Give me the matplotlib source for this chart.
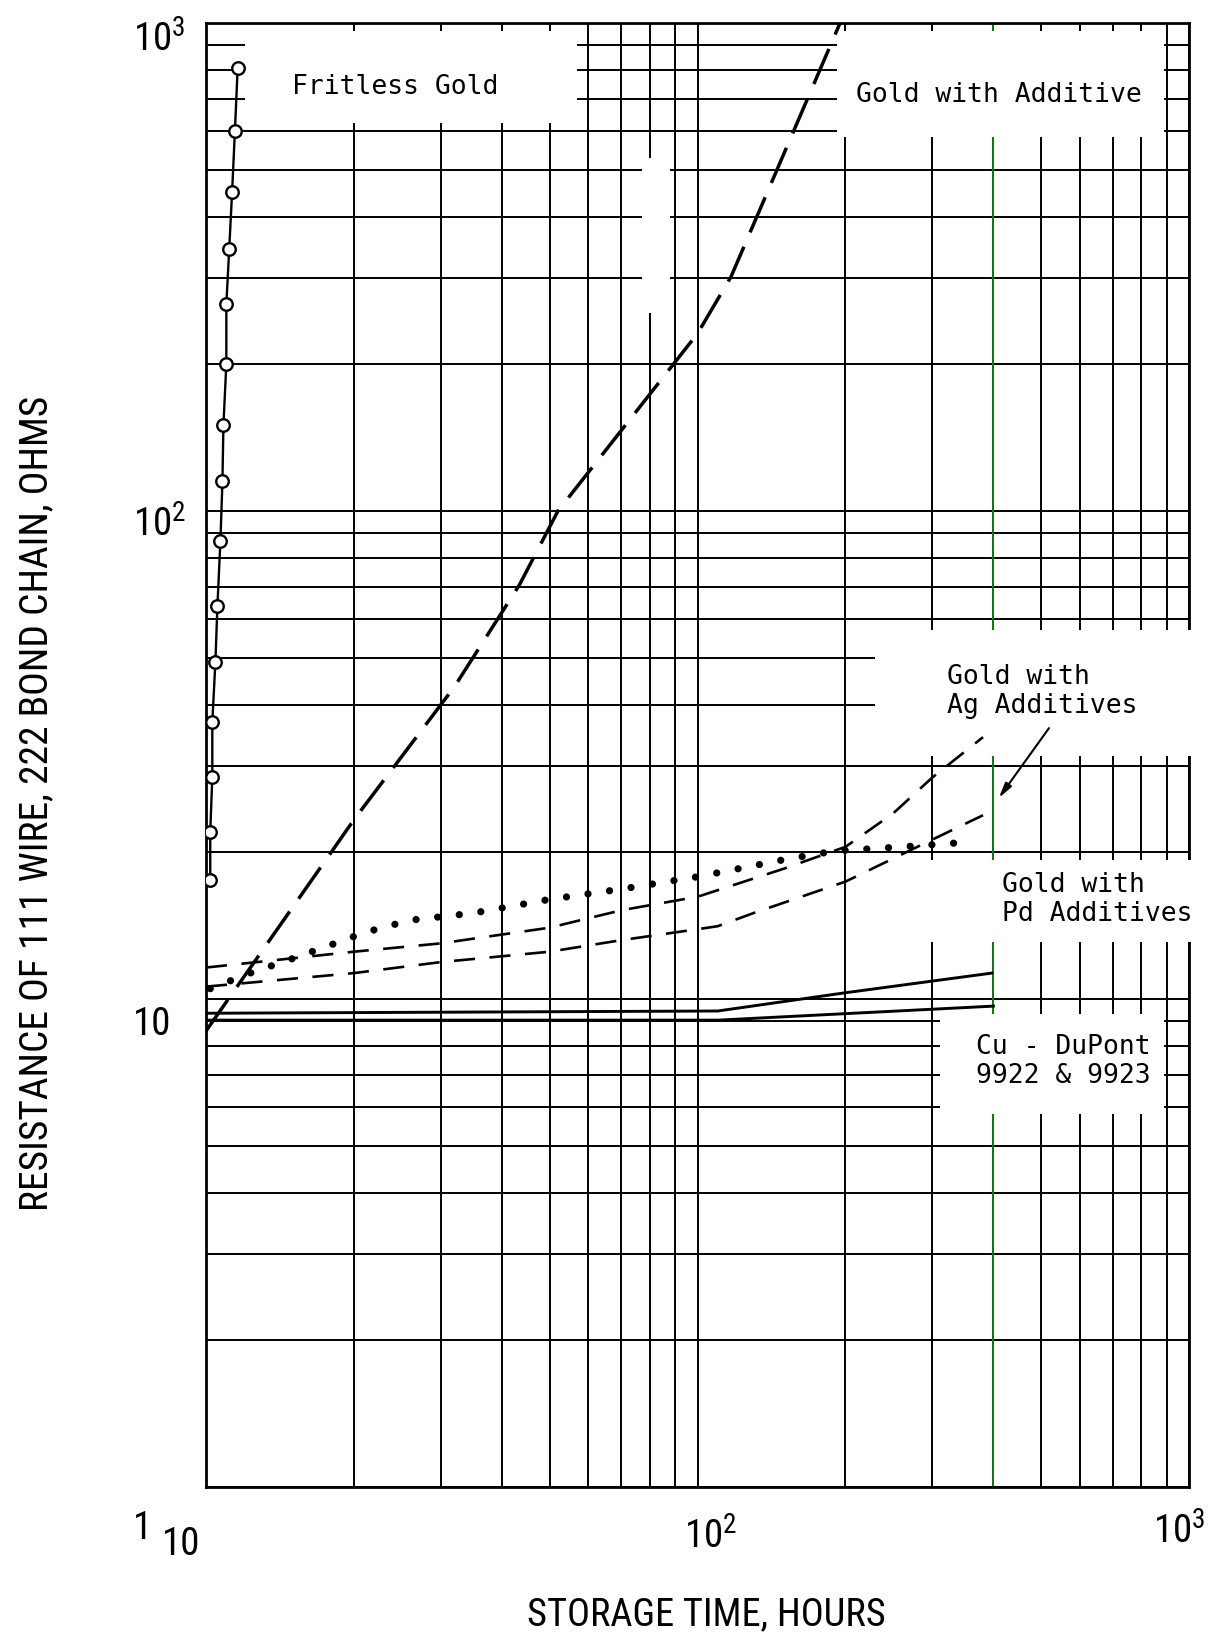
import matplotlib
matplotlib.use("Agg")
import matplotlib.pyplot as plt
from matplotlib import font_manager
from matplotlib.patches import Rectangle
from matplotlib.ticker import LogLocator, NullFormatter

# ---- data (hours, ohms) ----
fritless_time = [11.6, 11.45, 11.3, 11.15, 11.0, 11.0, 10.85, 10.8, 10.7, 10.55,
                 10.45, 10.3, 10.3, 10.2, 10.2]
fritless_res = [810, 600, 450, 345, 265, 200, 150, 115, 87, 64, 49, 37, 28.5, 22, 17.5]

additive_time = [10, 20, 32, 43.4, 52, 100, 117, 195]
additive_res = [8.6, 23.3, 43.6, 70.5, 100, 231, 302, 1000]

ag_upper_time = [10, 20, 30, 50, 70, 100, 150, 200, 250, 300, 381]
ag_upper_res = [11.6, 12.5, 13.0, 14.0, 15.2, 16.2, 18.5, 20.5, 24.0, 28.4, 34.4]
ag_lower_time = [10, 20, 30, 50, 70, 100, 110, 130, 200, 300, 381]
ag_lower_res = [10.6, 11.3, 11.9, 12.5, 13.2, 13.9, 14.1, 15.0, 17.4, 21.2, 23.8]
ag_dots_time = [10.2, 12.3, 15, 18.7, 21.1, 26, 35, 50, 70, 100, 150, 190, 260, 365]
ag_dots_res = [10.5, 11.3, 12.1, 13.1, 13.7, 14.5, 15.0, 16.0, 16.8, 17.8, 19.3, 20.1, 20.5, 21.0]

pd_time = [10, 110, 200, 397]
pd_res = [9.35, 9.45, 10.3, 11.3]
cu_time = [10, 110, 400]
cu_res = [9.05, 9.05, 9.67]

X_TICKS = [10, 100, 1000]
X_TICK_TEXT = ["10", r"$\mathregular{10^{2}}$", r"$\mathregular{10^{3}}$"]
Y_TICKS = [1, 10, 100, 1000]
Y_TICK_TEXT = ["1", "10", r"$\mathregular{10^{2}}$", r"$\mathregular{10^{3}}$"]

# label blank-outs on the graph paper: (x0, x1, y0, y1)
PAPER_GAPS = [
    (12.0, 56.9, 624, 965),    # Fritless Gold
    (192, 890, 585, 965),      # Gold with Additive
    (77, 88, 255, 530),        # scan blemish
    (230, 1060, 31.5, 57),     # Ag label
    (280, 1060, 13.1, 19.3),   # Pd label
    (312, 890, 5.8, 9.3),      # Cu label
]


def condensed_sans():
    installed = {f.name for f in font_manager.fontManager.ttflist}
    for name in ("Liberation Sans Narrow", "Roboto Condensed", "Open Sans Condensed",
                 "Noto Sans Condensed", "DejaVu Sans Condensed"):
        if name in installed:
            return name, "normal"
    for want in ("condensed", "semi-condensed", "extra-condensed"):
        for f in font_manager.fontManager.ttflist:
            if (f.stretch == want and f.style == "normal" and f.weight in (400, "normal", "regular")
                    and not any(k in f.name for k in ("Mono", "Serif", "CJK"))):
                return f.name, f.stretch
    return "DejaVu Sans", "normal"


LABEL_FONT, LABEL_STRETCH = condensed_sans()
TICK_SIZE = 28 if LABEL_STRETCH != "normal" or LABEL_FONT != "DejaVu Sans" else 25
NOTE_FONT = "DejaVu Sans Mono"
NOTE_SIZE = 19
GREEN = "#1f6e22"

fig = plt.figure(figsize=(12.25, 16.36), dpi=100)
ax = fig.add_axes([206 / 1225, 1 - 1487 / 1636, 983 / 1225, 1464 / 1636])
ax.set_xscale("log")
ax.set_yscale("log")
ax.set_xlim(10, 1000)
ax.set_ylim(1, 1000)

for axis in (ax.xaxis, ax.yaxis):
    axis.set_major_locator(LogLocator(base=10, numticks=10))
    axis.set_minor_locator(LogLocator(base=10, subs=range(2, 10), numticks=30))
    axis.set_minor_formatter(NullFormatter())
ax.tick_params(which="both", length=0, labelbottom=False, labelleft=False)
ax.set_axisbelow(True)
ax.grid(which="both", color="black", lw=1.4)
ax.axvline(400, color=GREEN, lw=1.5, zorder=0.8)
for s in ax.spines.values():
    s.set_linewidth(2.0)

for x0, x1, y0, y1 in PAPER_GAPS:
    ax.add_patch(Rectangle((x0, y0), x1 - x0, y1 - y0, facecolor="white",
                           edgecolor="none", zorder=2.6, clip_on=False))

# curves
ax.plot(fritless_time, fritless_res, "-o", color="black", lw=1.7, ms=9,
        mfc="white", mec="black", mew=1.7, zorder=4)
ax.plot(additive_time, additive_res, color="black", lw=2.5,
        linestyle=(0, (11, 4.5)), zorder=4)
ax.plot(ag_upper_time, ag_upper_res, color="black", lw=1.9,
        linestyle=(0, (8, 5.5)), zorder=4)
ax.plot(ag_lower_time, ag_lower_res, color="black", lw=1.9,
        linestyle=(0, (8, 5.5)), zorder=4)
ax.plot(ag_dots_time, ag_dots_res, color="black", lw=5.2,
        linestyle=(0, (0.01, 3.0)), dash_capstyle="round", zorder=4)
ax.plot(pd_time, pd_res, color="black", lw=2.1, zorder=4)
ax.plot(cu_time, cu_res, color="black", lw=2.1, zorder=4)

ax.annotate("", xy=(410, 25.8), xytext=(519, 35.9),
            arrowprops=dict(arrowstyle="-|>,head_width=0.22,head_length=0.9",
                            color="black", lw=1.5, shrinkA=0, shrinkB=0),
            zorder=5)

note = dict(fontfamily=NOTE_FONT, fontsize=NOTE_SIZE, ha="left", va="center",
            linespacing=1.15, zorder=5)
ax.text(14.96, 740, "Fritless Gold", **note)
ax.text(210, 712, "Gold with Additive", **note)
ax.text(322, 42.7, "Gold with\nAg Additives", **note)
ax.text(416, 16.0, "Gold with\nPd Additives", **note)
ax.text(369, 7.43, "Cu - DuPont\n9922 & 9923", **note)

# tick labels, placed the way the typist put them
tick = dict(fontfamily=LABEL_FONT, fontstretch=LABEL_STRETCH, fontsize=TICK_SIZE,
            ha="left", va="baseline", textcoords="offset pixels", annotation_clip=False)
for val, txt, dy in zip(Y_TICKS, Y_TICK_TEXT, [52, 36, 26, 29]):
    ax.annotate(txt, xy=(0, val), xycoords=("axes fraction", "data"),
                xytext=(-73, -dy), **tick)
for val, txt, dx, dy in zip(X_TICKS, X_TICK_TEXT, [-44, -14, -36], [68, 62, 57]):
    ax.annotate(txt, xy=(val, 0), xycoords=("data", "axes fraction"),
                xytext=(dx, -dy), **tick)

ylab = fig.text(36.5 / 1225, 1 - 803 / 1636, "RESISTANCE OF 111 WIRE, 222 BOND CHAIN, OHMS",
                rotation=90, ha="center", va="center", fontfamily=LABEL_FONT,
                fontstretch=LABEL_STRETCH, fontsize=22)
xlab = fig.text(706 / 1225, 1 - 1615 / 1636, "STORAGE TIME, HOURS", ha="center",
                va="center", fontfamily=LABEL_FONT, fontstretch=LABEL_STRETCH, fontsize=22)

# size the axis titles so they span what they span on the original sheet
renderer = fig.canvas.get_renderer()
ylab.set_fontsize(22 * 814 / ylab.get_window_extent(renderer).height)
xlab.set_fontsize(22 * 358 / xlab.get_window_extent(renderer).width)

fig.savefig("out.png", dpi=100, facecolor="white")
